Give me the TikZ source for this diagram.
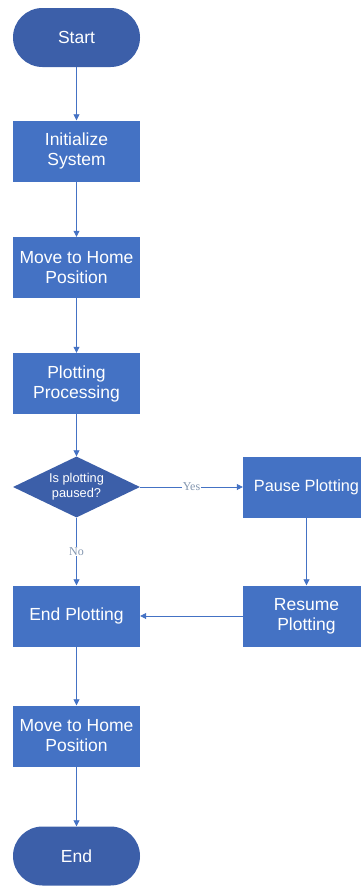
\documentclass[tikz,border=0pt]{standalone}
\usepackage{fontspec}
\setmainfont{Liberation Sans}
\newfontfamily\lblfont{Liberation Serif}
\usetikzlibrary{shapes.geometric,arrows.meta}
\definecolor{boxblue}{HTML}{4472C4}
\definecolor{termblue}{HTML}{3C5FA9}
\definecolor{lblgray}{HTML}{8497B0}
\begin{document}
\begin{tikzpicture}[x=1pt,y=-1pt,
    proc/.style={fill=boxblue,text=white,minimum width=127pt,minimum height=61pt,
      inner sep=0pt,align=center,font=\fontsize{17.5}{20}\selectfont},
    term/.style={proc,fill=termblue,rounded corners=29.5pt,minimum height=59pt},
    decide/.style={diamond,fill=termblue,text=white,aspect=2.08,inner sep=0pt,
      minimum width=127pt,minimum height=61pt,align=center,
      font=\fontsize{12.8}{15}\selectfont},
    flow/.style={draw=boxblue,line width=.8pt,-{Triangle[length=6pt,width=6pt]}},
    lbl/.style={fill=white,text=lblgray,inner sep=1pt,font=\lblfont\fontsize{12}{13}\selectfont}]
      \clip (0,0) rectangle (361,886);
      \node[term] (start) at (76.5,37.5) {Start};
      \node[proc] (init) at (76.5,151) {Initialize\\System};
      \node[proc] (home) at (76.5,267.5) {Move to Home\\Position};
      \node[proc] (plot) at (76.5,383.5) {Plotting\\Processing};
      \node[decide] (ask) at (76.5,487) {Is plotting\\paused?};
      \node[proc,font=\fontsize{16.3}{20}\selectfont] (pause) at (306.5,487) {Pause Plotting};
      \node[proc] (stop) at (76.5,616) {End Plotting};
      \node[proc] (resume) at (306.5,616) {Resume\\Plotting};
      \node[proc] (home2) at (76.5,736) {Move to Home\\Position};
      \node[term] (finish) at (76.5,856) {End};
      \draw[flow] (start) -- (init);
      \draw[flow] (init) -- (home);
      \draw[flow] (home) -- (plot);
      \draw[flow] (plot) -- (ask);
      \draw[flow] (ask) -- node[lbl]{Yes} (pause);
      \draw[flow] (ask) -- node[lbl]{No} (stop);
      \draw[flow] (pause) -- (resume);
      \draw[flow] (resume) -- (stop);
      \draw[flow] (stop) -- (home2);
      \draw[flow] (home2) -- (finish);
    \end{tikzpicture}
\end{document}
